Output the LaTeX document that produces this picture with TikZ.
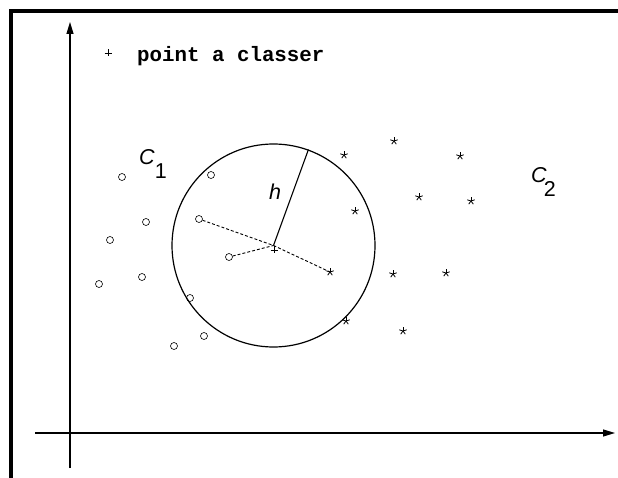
\documentclass[tikz,border=0pt]{standalone}
\usepackage{fontspec}
\setmainfont{Liberation Sans}
\setmonofont{Liberation Mono}
\usetikzlibrary{arrows.meta}

\begin{document}
\begin{tikzpicture}[x=1pt, y=-1pt,
  axis/.style={line width=1.1pt, -{Triangle[length=12pt,width=7pt]}},
  frame/.style={line width=3.5pt, line join=miter},
  ptc/.style={circle, draw, line width=0.6pt, inner sep=0pt, minimum size=7pt},
  ball/.style={circle, draw, line width=1.2pt, inner sep=0pt, minimum size=203pt},
  dist/.style={dash pattern=on 3pt off 2pt, line width=0.9pt},
  lbl/.style={font=\fontsize{21.5}{25}\selectfont, inner sep=0pt, anchor=base west},
  astk/.pic={\foreach \a in {-90,-18,54,126,198} \draw[line width=0.8pt] (0,0) -- (\a:3.9);},
  plusmark/.pic={\draw[line width=0.7pt] (-3.5,0) -- (3.5,0) (0,-3.5) -- (0,3.5);}
]
\useasboundingbox (0,0) rectangle (618,478);

% frame
\draw[frame] (11,480) -- (11,11) -- (620,11);

% axes
\coordinate (yb) at (70,468);
\coordinate (yt) at (70,22);
\coordinate (xl) at (35,433);
\coordinate (xr) at (615,433);
\draw[axis] (yb) -- (yt);
\draw[axis] (xl) -- (xr);

% legend
\path (108,53) pic {plusmark};
\node[lbl, font=\ttfamily\bfseries\fontsize{20.8}{24}\selectfont] (legend) at (137,61.7) {point a classer};

% class C1
\foreach \px/\py [count=\i] in {122/177, 211/175, 146/222, 199/219, 110/240, 229/257,
    99/284, 142/277, 190/298, 204/336, 174/346}
  \node[ptc] (o\i) at (\px,\py) {};
\node[lbl] (c1) at (139,165) {\textit{C}\raisebox{-14pt}{1}};

% class C2
\foreach \px/\py [count=\i] in {344/155, 394/141, 460/156, 355/211, 419/197, 471/201,
    330/272, 393/274, 446/273, 346/321, 403/331}
  \path (\px,\py) coordinate (s\i) pic {astk};
\node[lbl] (c2) at (531,182.3) {\textit{C}\raisebox{-14pt}{\kern-3pt 2}};

% neighbourhood
\coordinate (x0) at (273.5,245.5);
\node[ball] (nbh) at (x0) {};
\path (274,250) pic {plusmark};
\draw[line width=1.1pt] (x0) -- (nbh.70);
\node[lbl] (h) at (269,200) {\textit{h}};

\draw[dist] (o4) -- (x0);
\draw[dist] (o6) -- (x0);
\draw[dist] (x0) -- (s7);

\end{tikzpicture}
\end{document}
